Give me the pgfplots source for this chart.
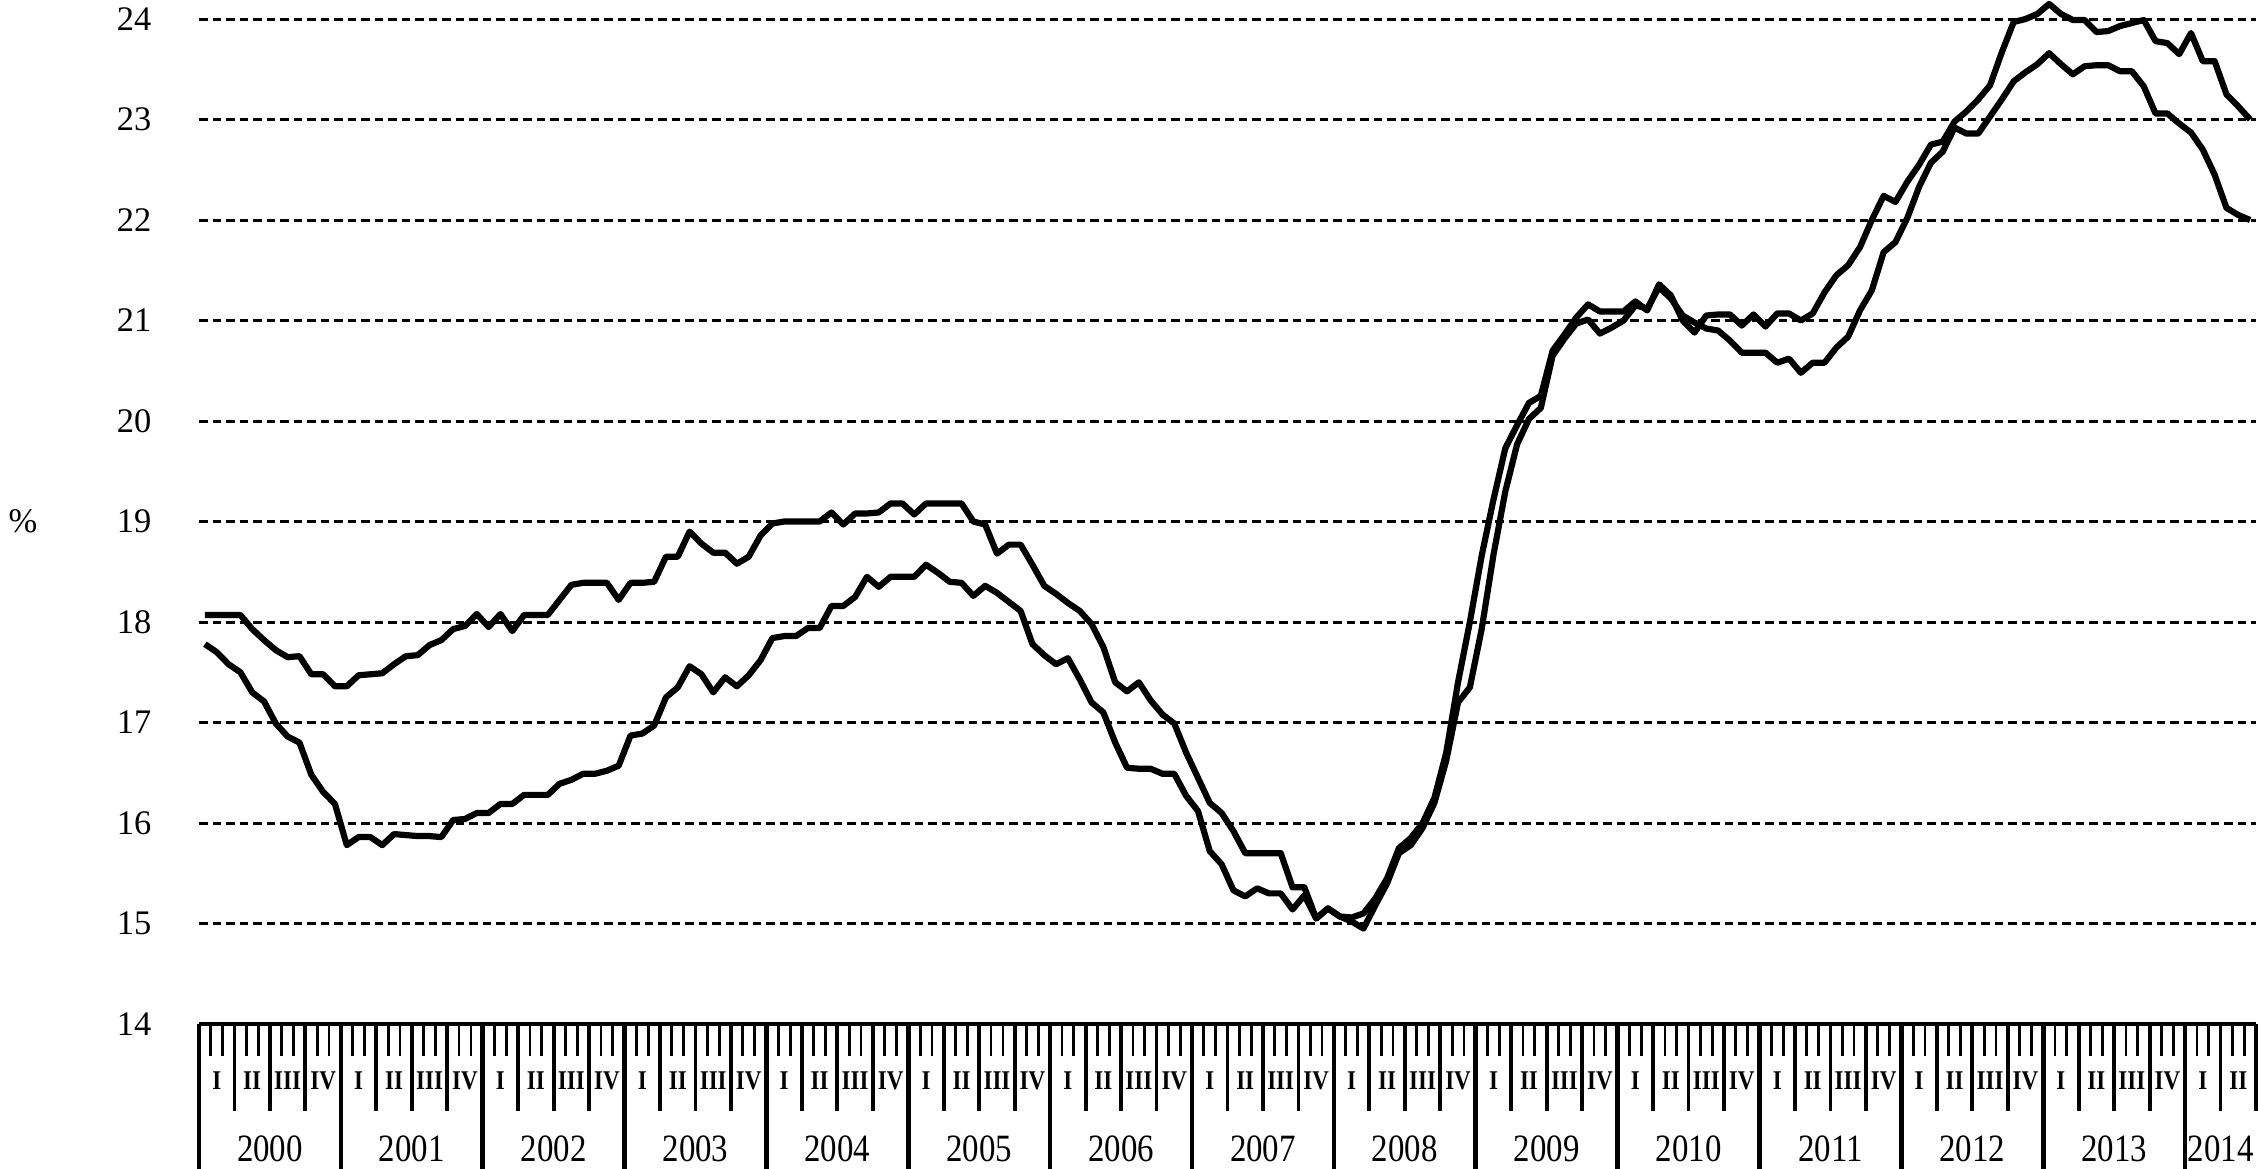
\documentclass[border=0pt]{standalone}
\usepackage{fontspec}
\setmainfont{Liberation Serif}
\usepackage{graphicx}
\usepackage{pgfplots}
\usepackage{pgfplotstable}
\pgfplotsset{compat=1.18}

% monthly values, Jan 2000 (m=0) .. Jun 2014 (m=173)
\pgfplotstableread{
m a b
0 18.07 17.78
1 18.07 17.70
2 18.07 17.58
3 18.07 17.50
4 17.93 17.30
5 17.82 17.21
6 17.72 16.99
7 17.65 16.86
8 17.66 16.80
9 17.48 16.48
10 17.48 16.31
11 17.36 16.19
12 17.36 15.78
13 17.47 15.86
14 17.48 15.86
15 17.49 15.78
16 17.58 15.89
17 17.66 15.88
18 17.67 15.87
19 17.77 15.87
20 17.82 15.86
21 17.93 16.03
22 17.96 16.04
23 18.08 16.10
24 17.95 16.10
25 18.08 16.19
26 17.91 16.19
27 18.07 16.28
28 18.07 16.28
29 18.07 16.28
30 18.22 16.39
31 18.37 16.43
32 18.39 16.49
33 18.39 16.49
34 18.39 16.52
35 18.22 16.57
36 18.39 16.87
37 18.39 16.89
38 18.40 16.97
39 18.65 17.25
40 18.65 17.35
41 18.90 17.56
42 18.78 17.48
43 18.69 17.30
44 18.69 17.45
45 18.58 17.36
46 18.65 17.47
47 18.86 17.62
48 18.98 17.84
49 19.00 17.86
50 19.00 17.86
51 19.00 17.94
52 19.00 17.94
53 19.09 18.16
54 18.97 18.16
55 19.08 18.25
56 19.08 18.45
57 19.09 18.35
58 19.18 18.45
59 19.18 18.45
60 19.07 18.45
61 19.18 18.57
62 19.18 18.49
63 19.18 18.40
64 19.18 18.39
65 19.00 18.26
66 18.97 18.36
67 18.68 18.29
68 18.77 18.20
69 18.77 18.11
70 18.57 17.78
71 18.36 17.67
72 18.28 17.58
73 18.19 17.64
74 18.11 17.43
75 17.98 17.20
76 17.75 17.10
77 17.40 16.80
78 17.31 16.55
79 17.40 16.54
80 17.22 16.54
81 17.08 16.49
82 16.99 16.49
83 16.70 16.27
84 16.45 16.12
85 16.20 15.72
86 16.10 15.59
87 15.92 15.33
88 15.70 15.27
89 15.70 15.35
90 15.70 15.30
91 15.70 15.30
92 15.36 15.14
93 15.36 15.28
94 15.05 15.05
95 15.15 15.15
96 15.07 15.07
97 15.06 15.02
98 15.10 14.95
99 15.25 15.18
100 15.45 15.40
101 15.75 15.70
102 15.85 15.78
103 16.00 15.95
104 16.25 16.20
105 16.70 16.62
106 17.40 17.20
107 18.00 17.35
108 18.66 17.93
109 19.22 18.67
110 19.73 19.30
111 19.96 19.77
112 20.18 20.02
113 20.25 20.13
114 20.70 20.65
115 20.86 20.82
116 21.03 20.97
117 21.16 21.01
118 21.09 20.87
119 21.09 20.93
120 21.09 21.00
121 21.19 21.15
122 21.10 21.12
123 21.36 21.33
124 21.25 21.22
125 21.00 21.05
126 20.88 20.98
127 21.05 20.92
128 21.06 20.90
129 21.06 20.80
130 20.95 20.68
131 21.06 20.68
132 20.94 20.68
133 21.07 20.58
134 21.07 20.62
135 21.00 20.48
136 21.07 20.58
137 21.28 20.58
138 21.45 20.73
139 21.55 20.84
140 21.73 21.10
141 22.00 21.30
142 22.24 21.68
143 22.18 21.78
144 22.38 22.02
145 22.55 22.33
146 22.75 22.57
147 22.78 22.68
148 22.98 22.92
149 23.08 22.86
150 23.20 22.86
151 23.34 23.03
152 23.67 23.20
153 23.97 23.38
154 24.00 23.47
155 24.05 23.55
156 24.15 23.66
157 24.05 23.55
158 23.99 23.45
159 23.99 23.53
160 23.87 23.54
161 23.88 23.54
162 23.93 23.48
163 23.96 23.48
164 23.99 23.33
165 23.78 23.06
166 23.76 23.06
167 23.65 22.96
168 23.86 22.87
169 23.58 22.70
170 23.58 22.45
171 23.25 22.12
172 23.13 22.05
173 23.00 22.00
}\rates

\newcommand{\q}[1]{\scalebox{0.85}[1]{#1}}
\tikzset{
  ql/.style={inner sep=0pt, anchor=center, yshift=-0.57cm, font=\fontsize{7.7}{8}\selectfont\bfseries},
  yl/.style={inner sep=0pt, anchor=base, yshift=-1.37cm, font=\fontsize{11}{12}\selectfont},
}

\begin{document}
\begin{tikzpicture}
\begin{axis}[
  scale only axis,
  width=20.57cm, height=10.05cm,
  xmin=0, xmax=174, ymin=14, ymax=24,
  clip=false,
  axis line style={draw=none},
  xtick=\empty,
  ytick={14,...,24},
  ytick style={draw=none},
  ymajorgrids,
  grid style={black, line width=0.03cm, dash pattern=on 0.085cm off 0.05cm},
  yticklabel style={font=\fontsize{9.8}{11}\selectfont, inner sep=0pt, xshift=-0.47cm},
  /pgf/number format/assume math mode=true,
]
\coordinate (sw) at (rel axis cs:0,0);
\coordinate (ne) at (rel axis cs:1,1);

\addplot[black, line width=0.062cm, line join=round] table[x expr=\thisrow{m}+0.5, y=a] {\rates};
\addplot[black, line width=0.062cm, line join=round] table[x expr=\thisrow{m}+0.5, y=b] {\rates};

% time scale under the plot
\draw[line width=0.04cm] (rel axis cs:0,0) -- (rel axis cs:1,0);
\pgfplotsinvokeforeach{1,...,173}{
  \draw[line width=0.028cm] (axis cs:#1,14) -- ++(0pt,-0.32cm);
}
\pgfplotsinvokeforeach{3,6,...,174}{
  \draw[line width=0.038cm] (axis cs:#1,14) -- ++(0pt,-0.87cm);
}
\pgfplotsinvokeforeach{0,12,...,168}{
  \draw[line width=0.046cm] (axis cs:#1,14) -- ++(0pt,-1.5cm);
}
\pgfplotsinvokeforeach{0,...,13}{
  \node[ql] at (axis cs:{12*#1+1.5},14) {\q{I}};
  \node[ql] at (axis cs:{12*#1+4.5},14) {\q{II}};
  \node[ql] at (axis cs:{12*#1+7.5},14) {\q{III}};
  \node[ql] at (axis cs:{12*#1+10.5},14) {\q{IV}};
  \node[yl] at (axis cs:{12*#1+6},14) {\q{\the\numexpr2000+#1\relax}};
}
\node[ql] at (axis cs:169.5,14) {\q{I}};
\node[ql] at (axis cs:172.5,14) {\q{II}};
\node[yl] at (axis cs:171,14) {\q{2014}};

\node[font=\fontsize{9.8}{11}\selectfont] at (rel axis cs:0,0.5) [xshift=-1.76cm] {\%};
\end{axis}
\pgfresetboundingbox
\path[use as bounding box] ([shift={(-1.99cm,-1.44cm)}]sw) rectangle ([shift={(0.02cm,0.19cm)}]ne);
\end{tikzpicture}
\end{document}
